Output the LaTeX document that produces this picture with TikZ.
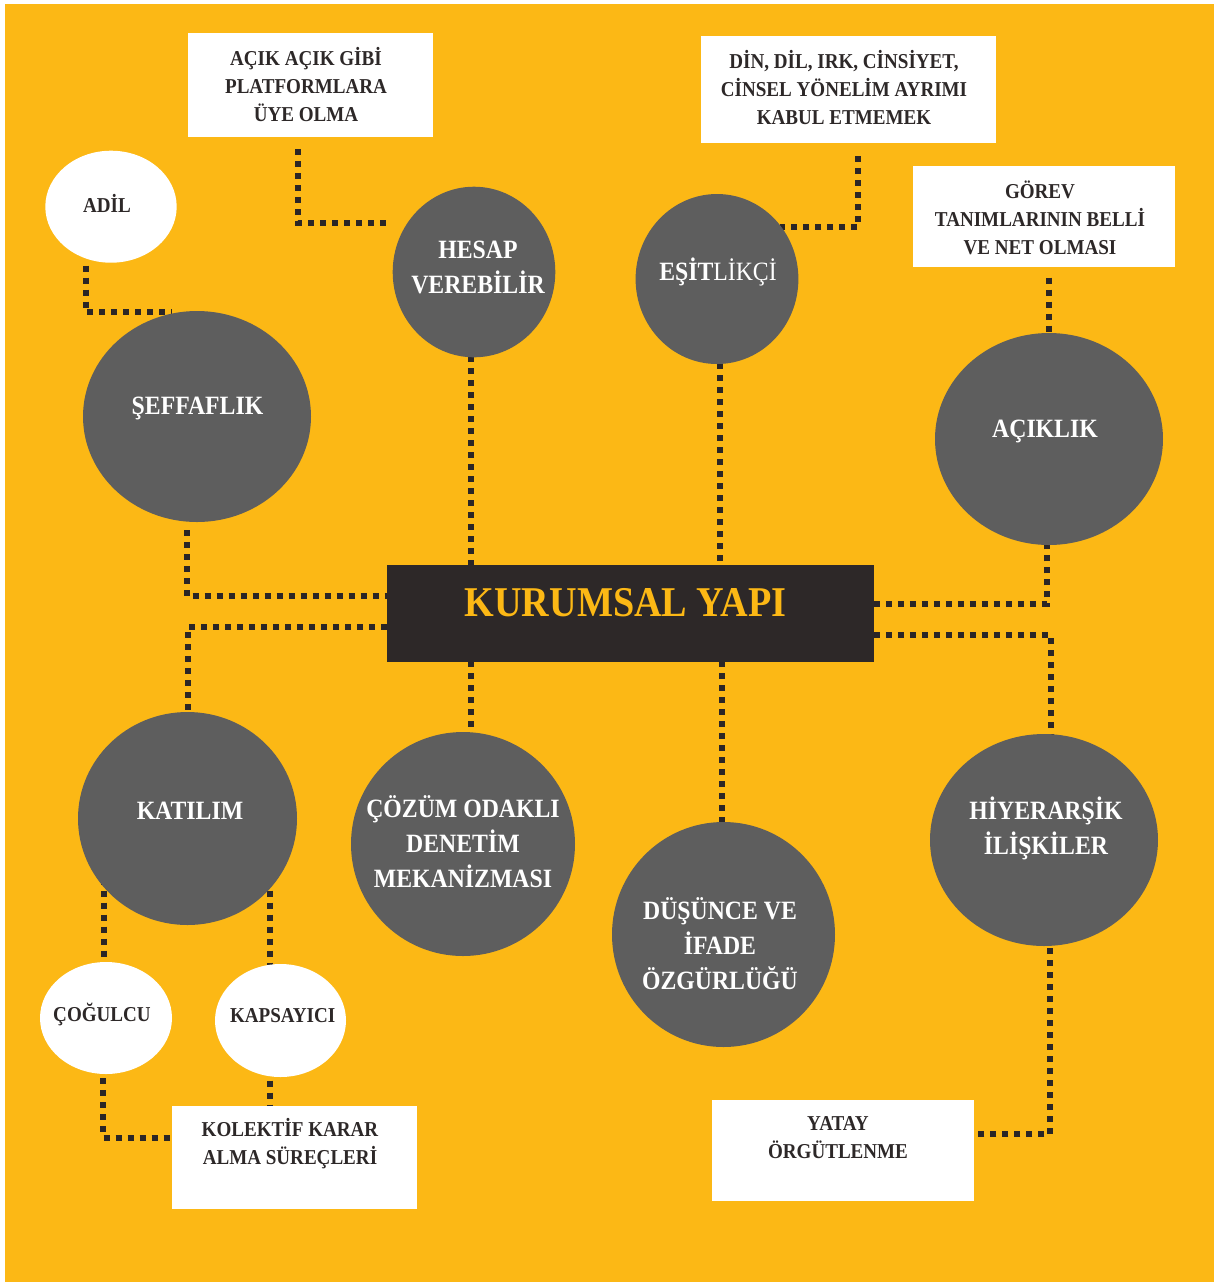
\documentclass[tikz,border=0pt]{standalone}
\usepackage{fontspec}
\setmainfont{Liberation Serif}[FakeStretch=0.9]
\usetikzlibrary{shapes.geometric}
\pgfdeclarelayer{bg}
\pgfdeclarelayer{conn}
\pgfsetlayers{bg,conn,main}
\definecolor{org}{HTML}{FCB815}
\definecolor{gr}{HTML}{5E5E5E}
\definecolor{dk}{HTML}{2D2828}
\definecolor{dotc}{HTML}{2B2626}
\begin{document}
\begin{tikzpicture}[x=0.5pt,y=-0.5pt,
  gcirc/.style={ellipse, fill=gr, inner sep=0pt, outer sep=0pt},
  wcirc/.style={ellipse, fill=white, inner sep=0pt, outer sep=0pt},
  wbox/.style={rectangle, fill=white, inner sep=0pt, outer sep=0pt},
  kbox/.style={rectangle, fill=dk, inner sep=0pt, outer sep=0pt},
  ctext/.style={text=white, font=\fontsize{13.2}{17.5}\selectfont\bfseries, align=center, inner sep=0pt},
  stext/.style={text=dk, font=\fontsize{10.6}{14}\selectfont\bfseries, align=center, inner sep=0pt},
  dotline/.style={draw=dotc, line width=3pt, dash pattern=on 3pt off 3pt}]
\useasboundingbox (0,0) rectangle (1214,1282);
\begin{pgfonlayer}{bg}
\fill[white] (0,0) rectangle (1214,1282);
\fill[org] (5,4) rectangle (1214,1282);
\end{pgfonlayer}

% shapes
\node[wcirc, minimum width=65.7pt, minimum height=56pt] (adil) at (111,206.7) {};
\node[gcirc, minimum width=114pt, minimum height=105.5pt] (sef) at (197,416.5) {};
\node[gcirc, minimum width=81.3pt, minimum height=85.3pt] (hesap) at (474,272) {};
\node[gcirc, minimum width=81.4pt, minimum height=85pt] (esit) at (717,279) {};
\node[gcirc, minimum width=114pt, minimum height=106pt] (acik) at (1049,439) {};
\node[gcirc, minimum width=109.5pt, minimum height=106.5pt] (kat) at (187.5,818.5) {};
\node[gcirc, minimum width=112pt, minimum height=112pt] (coz) at (463,844) {};
\node[gcirc, minimum width=111.5pt, minimum height=112.5pt] (dus) at (723.5,934.5) {};
\node[gcirc, minimum width=114pt, minimum height=106pt] (hier) at (1044,840) {};
\node[wcirc, minimum width=66pt, minimum height=56pt] (cog) at (106,1018) {};
\node[wcirc, minimum width=65.5pt, minimum height=56.5pt] (kap) at (280.5,1020.5) {};

\node[wbox, minimum width=122.35pt, minimum height=52pt] (box1) at (310.3,85) {};
\node[wbox, minimum width=147.65pt, minimum height=53.5pt] (box2) at (848.3,89.5) {};
\node[wbox, minimum width=131pt, minimum height=50.35pt] (box3) at (1044,216.3) {};
\node[kbox, minimum width=243.65pt, minimum height=48.35pt] (kur) at (630.3,613.3) {};
\node[wbox, minimum width=122.2pt, minimum height=51.8pt] (kol) at (294.5,1157.5) {};
\node[wbox, minimum width=131pt, minimum height=50.35pt] (yat) at (843,1150.35) {};

% texts
\node[stext] (tadil) at (107,203) {ADİL};
\node[stext] (tbox1) at (306,84.5) {AÇIK AÇIK GİBİ\\PLATFORMLARA\\ÜYE OLMA};
\node[stext] (tbox2) at (844,88) {DİN, DİL, IRK, CİNSİYET,\\CİNSEL YÖNELİM AYRIMI\\KABUL ETMEMEK};
\node[stext] (tbox3) at (1040,218) {GÖREV\\TANIMLARININ BELLİ\\VE NET OLMASI};
\node[ctext] (thesap) at (478,267.5) {HESAP\\VEREBİLİR};
\node[ctext] (tesit) at (718,272) {EŞİT{\mdseries LİKÇİ}};
\node[ctext] (tsef) at (197.5,408) {ŞEFFAFLIK};
\node[ctext] (tacik) at (1045,431) {AÇIKLIK};
\node[text=org, font=\fontsize{21.2}{25}\selectfont\bfseries, inner sep=0pt] (tkur) at (625.7,602.5) {KURUMSAL YAPI};
\node[ctext] (tkat) at (190,811) {KATILIM};
\node[ctext] (tcoz) at (463,842) {ÇÖZÜM ODAKLI\\DENETİM\\MEKANİZMASI};
\node[ctext] (tdus) at (720,943.5) {DÜŞÜNCE VE\\İFADE\\ÖZGÜRLÜĞÜ};
\node[ctext] (thier) at (1046,828.5) {HİYERARŞİK\\İLİŞKİLER};
\node[stext] (tcog) at (102,1014) {ÇOĞULCU};
\node[stext] (tkap) at (282.7,1016) {KAPSAYICI};
\node[stext] (tkol) at (290,1144) {KOLEKTİF KARAR\\ALMA SÜREÇLERİ};
\node[stext] (tyat) at (838,1138) {YATAY\\ÖRGÜTLENME};

% helper coordinates
\coordinate (x1) at (85.5,0);
\coordinate (e1) at (172,312);
\coordinate (x2) at (298,0);
\coordinate (e2) at (389,223);
\coordinate (x3) at (471,0);
\coordinate (x4) at (720,0);
\coordinate (x5) at (858,0);
\coordinate (e5) at (780,227);
\coordinate (x6) at (1049,0);
\coordinate (x7) at (187,0);
\coordinate (x8) at (188,0);
\coordinate (x9) at (1047,0);
\coordinate (x10) at (1051,0);
\coordinate (x12) at (722,0);
\coordinate (x13) at (104,0);
\coordinate (x14) at (270,0);
\coordinate (x15) at (103,0);
\coordinate (x17) at (1050,0);

\begin{pgfonlayer}{conn}
\draw[dotline] ([yshift=-1.5pt]x1 |- adil.south) |- (e1);
\draw[dotline] ([yshift=-6pt]x2 |- box1.south) |- (e2);
\draw[dotline] (x3 |- hesap.center) -- (x3 |- kur.center);
\draw[dotline] (x4 |- esit.center) -- (x4 |- kur.center);
\draw[dotline] ([yshift=-6.5pt]x5 |- box2.south) |- (e5);
\draw[dotline] ([yshift=-5.5pt]x6 |- box3.south) -- (x6 |- acik.center);
\draw[dotline] ([yshift=-4pt]x7 |- sef.south) |- ([yshift=8.5pt]kur.west);
\draw[dotline] ([yshift=-6.8pt]kur.west) -| (x8 |- kat.center);
\draw[dotline] ([yshift=4.5pt]kur.east) -| (x9 |- acik.center);
\draw[dotline] ([yshift=-11pt]kur.east) -| (x10 |- hier.center);
\draw[dotline] (x3 |- kur.center) -- (x3 |- coz.center);
\draw[dotline] (x12 |- kur.center) -- (x12 |- dus.center);
\draw[dotline] (x13 |- kat.center) -- (x13 |- cog.center);
\draw[dotline] (x14 |- kat.center) -- (x14 |- kap.center);
\draw[dotline] (x15 |- cog.center) |- ([yshift=10pt]kol.west);
\draw[dotline] (x14 |- kap.center) -- (x14 |- kol.center);
\draw[dotline] (x17 |- hier.center) |- ([yshift=8pt]yat.east);
\end{pgfonlayer}
\end{tikzpicture}
\end{document}
